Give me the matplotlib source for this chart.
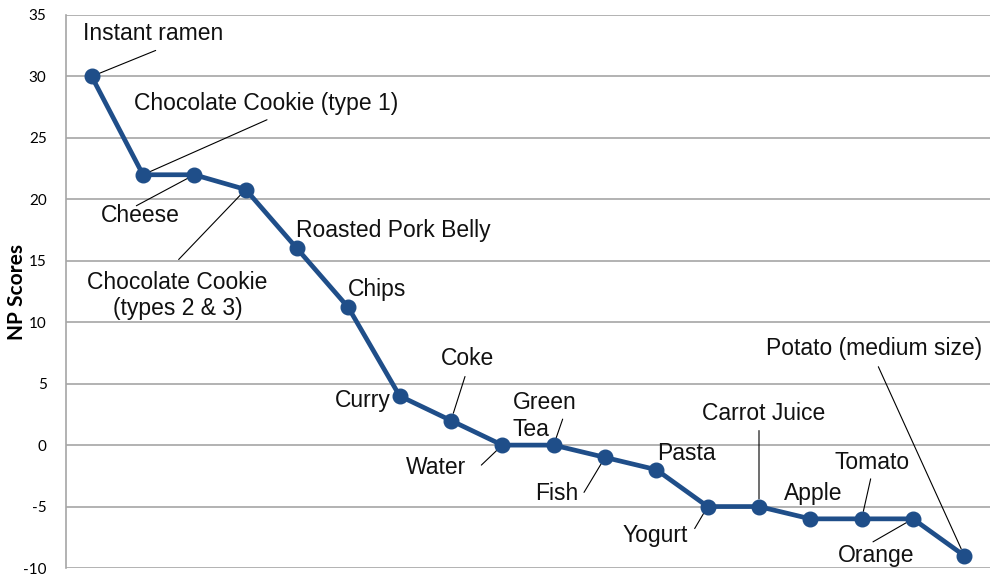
import matplotlib
matplotlib.use("Agg")
import matplotlib.pyplot as plt
import numpy as np

foods = ["Instant ramen", "Chocolate Cookie (type 1)", "Cheese",
         "Chocolate Cookie\n(types 2 & 3)", "Roasted Pork Belly", "Chips",
         "Curry", "Coke", "Water", "Green\nTea", "Fish", "Pasta", "Yogurt",
         "Carrot Juice", "Apple", "Tomato", "Orange", "Potato (medium size)"]
np_scores = [30, 22, 22, 20.8, 16, 11.2, 4, 2, 0, 0, -1, -2, -5, -5, -6, -6, -6, -9]
y_ticks = [-10, -5, 0, 5, 10, 15, 20, 25, 30, 35]

# label placement: (dx, dy) text offset in pixels, ha, leader start offset or None
label_style = [
    ((-9, 43), "left", (64, 26)),
    ((-9, 71), "left", (124, 55)),
    ((-54, -41), "center", (-58, -31)),
    ((-68, -106), "center", (-67, -70)),
    ((-1, 18), "left", None),
    ((0, 18), "left", None),
    ((-9, -5), "right", None),
    ((17, 62), "center", (14, 44)),
    ((-36, -22), "right", (-21, -20)),
    ((-41, 29), "left", (9, 26)),
    ((-27, -36), "right", (-21, -35)),
    ((1, 16), "left", None),
    ((-20, -29), "right", (-13, -22)),
    ((5, 93), "center", (0, 76)),
    ((3, 25), "center", None),
    ((10, 56), "center", (9, 40)),
    ((-37, -37), "center", (-40, -23)),
    ((18, 207), "right", (-86, 189)),
]

fig = plt.figure(figsize=(9.9, 5.79), dpi=100)
ax = fig.add_axes([66/990, 11/579, 924/990, 553/579])

x = np.arange(len(foods))
ax.plot(x, np_scores, color="#1F4E89", lw=3.4, marker="o", markersize=10.5,
        markerfacecolor="#1F4E89", markeredgecolor="#1F4E89", zorder=3,
        clip_on=False)

ax.set_xlim(-0.5, len(foods) - 0.5)
ax.set_ylim(-10, 35)
ax.set_yticks(y_ticks)
ax.set_yticklabels([str(t) for t in y_ticks], fontfamily="Lato", fontsize=11)
ax.set_xticks([])
ax.tick_params(axis="y", length=0, pad=14)
ax.grid(axis="y", color="#A6A6A6", lw=1.2)
ax.set_axisbelow(True)
for s in ["top", "right", "bottom"]:
    ax.spines[s].set_visible(False)
ax.spines["left"].set_color("#A6A6A6")
ax.spines["left"].set_linewidth(1.2)

ax.set_ylabel("NP Scores", fontfamily="Lato", fontweight="bold", fontsize=15)
ax.yaxis.set_label_coords(-0.042, 0.5)

for i, (name, v) in enumerate(zip(foods, np_scores)):
    (dx, dy), ha, lead = label_style[i]
    ax.annotate(name, xy=(i, v), xytext=(dx, dy), textcoords="offset pixels",
                ha=ha, va="center", multialignment=ha,
                fontfamily="Liberation Sans", fontsize=16.5, color="#111111",
                zorder=4)
    if lead is not None:
        ax.annotate("", xy=(i, v), xytext=lead, textcoords="offset pixels",
                    arrowprops=dict(arrowstyle="-", color="black", lw=0.8,
                                    shrinkA=0, shrinkB=5.5), zorder=2)

fig.savefig("out.png", dpi=100)
